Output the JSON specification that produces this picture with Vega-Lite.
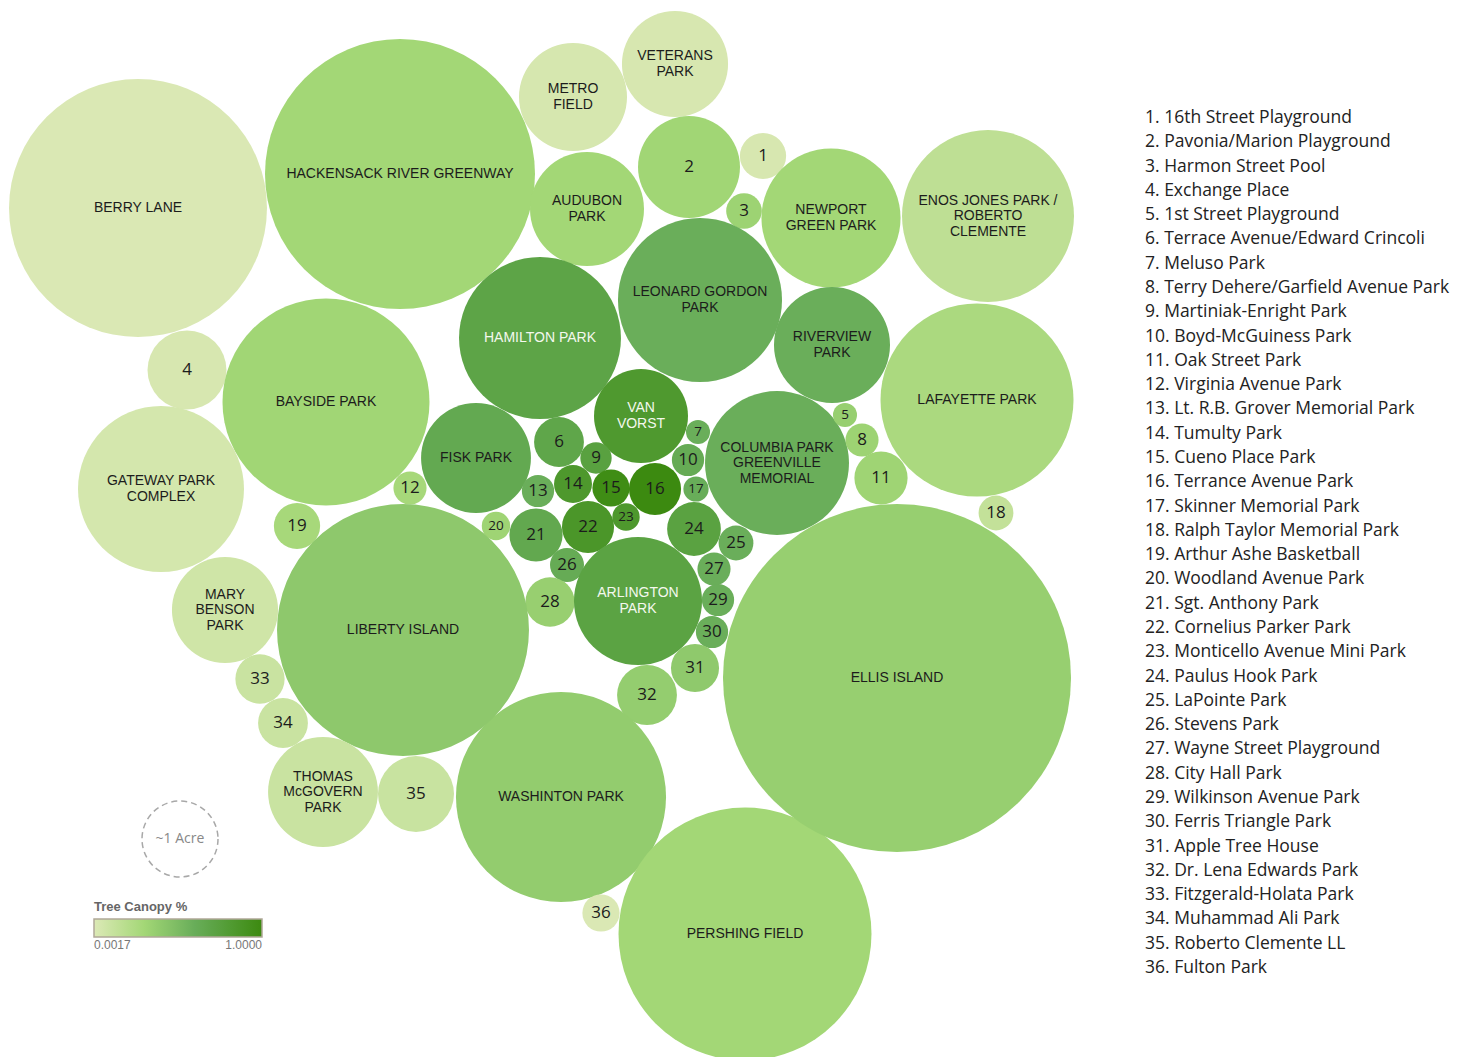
{
  "$schema": "https://vega.github.io/schema/vega-lite/v6.json",
  "width": 1471,
  "height": 1057,
  "padding": 0,
  "autosize": "none",
  "background": "white",
  "config": {"view": {"stroke": null}, "axis": {"disable": true}},
  "datasets": {
    "parks": [
      {"label": "BERRY LANE", "x": 138, "y": 208, "acres": 11.52, "canopy": 0.01},
      {"label": "HACKENSACK RIVER GREENWAY", "x": 400, "y": 174, "acres": 12.62, "canopy": 0.30},
      {"label": "METRO\nFIELD", "x": 573, "y": 97, "acres": 2.02, "canopy": 0.035},
      {"label": "VETERANS\nPARK", "x": 675, "y": 64, "acres": 1.95, "canopy": 0.03},
      {"label": "2", "x": 689, "y": 167, "acres": 1.80, "canopy": 0.31},
      {"label": "1", "x": 763, "y": 156, "acres": 0.37, "canopy": 0.03},
      {"label": "3", "x": 744, "y": 211, "acres": 0.22, "canopy": 0.33},
      {"label": "AUDUBON\nPARK", "x": 587, "y": 209, "acres": 2.25, "canopy": 0.30},
      {"label": "NEWPORT\nGREEN PARK", "x": 831, "y": 218, "acres": 3.35, "canopy": 0.30},
      {"label": "ENOS JONES PARK /\nROBERTO\nCLEMENTE", "x": 988, "y": 216, "acres": 5.12, "canopy": 0.16},
      {"label": "LEONARD GORDON\nPARK", "x": 700, "y": 300, "acres": 4.66, "canopy": 0.59},
      {"label": "HAMILTON PARK", "x": 540, "y": 338, "acres": 4.54, "canopy": 0.70},
      {"label": "RIVERVIEW\nPARK", "x": 832, "y": 345, "acres": 2.33, "canopy": 0.59},
      {"label": "LAFAYETTE PARK", "x": 977, "y": 400, "acres": 6.45, "canopy": 0.26},
      {"label": "4", "x": 187, "y": 370, "acres": 1.08, "canopy": 0.03},
      {"label": "BAYSIDE PARK", "x": 326, "y": 402, "acres": 7.42, "canopy": 0.31},
      {"label": "GATEWAY PARK\nCOMPLEX", "x": 161, "y": 489, "acres": 4.77, "canopy": 0.043},
      {"label": "FISK PARK", "x": 476, "y": 458, "acres": 2.09, "canopy": 0.645},
      {"label": "VAN\nVORST", "x": 641, "y": 416, "acres": 1.53, "canopy": 0.83},
      {"label": "COLUMBIA PARK\nGREENVILLE\nMEMORIAL", "x": 777, "y": 463, "acres": 3.59, "canopy": 0.59},
      {"label": "5", "x": 845, "y": 415, "acres": 0.10, "canopy": 0.36},
      {"label": "8", "x": 862, "y": 440, "acres": 0.19, "canopy": 0.33},
      {"label": "11", "x": 881, "y": 478, "acres": 0.49, "canopy": 0.32},
      {"label": "18", "x": 996, "y": 513, "acres": 0.21, "canopy": 0.135},
      {"label": "6", "x": 559, "y": 442, "acres": 0.43, "canopy": 0.68},
      {"label": "7", "x": 698, "y": 432, "acres": 0.10, "canopy": 0.59},
      {"label": "9", "x": 596, "y": 458, "acres": 0.17, "canopy": 0.735},
      {"label": "10", "x": 688, "y": 460, "acres": 0.18, "canopy": 0.62},
      {"label": "12", "x": 410, "y": 488, "acres": 0.19, "canopy": 0.28},
      {"label": "13", "x": 538, "y": 491, "acres": 0.18, "canopy": 0.59},
      {"label": "14", "x": 573, "y": 484, "acres": 0.25, "canopy": 0.84},
      {"label": "15", "x": 611, "y": 488, "acres": 0.24, "canopy": 0.97},
      {"label": "16", "x": 655, "y": 489, "acres": 0.47, "canopy": 1.0},
      {"label": "17", "x": 696, "y": 489, "acres": 0.11, "canopy": 0.6},
      {"label": "19", "x": 297, "y": 526, "acres": 0.37, "canopy": 0.28},
      {"label": "20", "x": 496, "y": 526, "acres": 0.14, "canopy": 0.32},
      {"label": "21", "x": 536, "y": 535, "acres": 0.49, "canopy": 0.655},
      {"label": "22", "x": 588, "y": 527, "acres": 0.47, "canopy": 0.865},
      {"label": "23", "x": 626, "y": 517, "acres": 0.13, "canopy": 0.84},
      {"label": "24", "x": 694, "y": 529, "acres": 0.50, "canopy": 0.73},
      {"label": "25", "x": 736, "y": 543, "acres": 0.21, "canopy": 0.59},
      {"label": "26", "x": 567, "y": 565, "acres": 0.20, "canopy": 0.62},
      {"label": "27", "x": 714, "y": 569, "acres": 0.19, "canopy": 0.59},
      {"label": "28", "x": 550, "y": 602, "acres": 0.42, "canopy": 0.357},
      {"label": "ARLINGTON\nPARK", "x": 638, "y": 601, "acres": 2.84, "canopy": 0.72},
      {"label": "29", "x": 718, "y": 600, "acres": 0.18, "canopy": 0.59},
      {"label": "30", "x": 712, "y": 632, "acres": 0.18, "canopy": 0.59},
      {"label": "31", "x": 695, "y": 668, "acres": 0.40, "canopy": 0.40},
      {"label": "32", "x": 647, "y": 695, "acres": 0.62, "canopy": 0.375},
      {"label": "WASHINTON PARK", "x": 561, "y": 797, "acres": 7.64, "canopy": 0.38},
      {"label": "36", "x": 601, "y": 913, "acres": 0.24, "canopy": 0.01},
      {"label": "PERSHING FIELD", "x": 745, "y": 934, "acres": 11.08, "canopy": 0.30},
      {"label": "ELLIS ISLAND", "x": 897, "y": 678, "acres": 20.97, "canopy": 0.36},
      {"label": "LIBERTY ISLAND", "x": 403, "y": 630, "acres": 10.99, "canopy": 0.405},
      {"label": "MARY\nBENSON\nPARK", "x": 225, "y": 610, "acres": 1.95, "canopy": 0.07},
      {"label": "33", "x": 260, "y": 679, "acres": 0.42, "canopy": 0.10},
      {"label": "34", "x": 283, "y": 723, "acres": 0.43, "canopy": 0.10},
      {"label": "THOMAS\nMcGOVERN\nPARK", "x": 323, "y": 792, "acres": 2.09, "canopy": 0.10},
      {"label": "35", "x": 416, "y": 794, "acres": 1.00, "canopy": 0.105}
    ],
    "scaleref": [
      {"label": "~1 Acre", "x": 180, "y": 839, "acres": 1}
    ],
    "list": [
      {"n": 1, "entry": "1. 16th Street Playground"},
      {"n": 2, "entry": "2. Pavonia/Marion Playground"},
      {"n": 3, "entry": "3. Harmon Street Pool"},
      {"n": 4, "entry": "4. Exchange Place"},
      {"n": 5, "entry": "5. 1st Street Playground"},
      {"n": 6, "entry": "6. Terrace Avenue/Edward Crincoli"},
      {"n": 7, "entry": "7. Meluso Park"},
      {"n": 8, "entry": "8. Terry Dehere/Garfield Avenue Park"},
      {"n": 9, "entry": "9. Martiniak-Enright Park"},
      {"n": 10, "entry": "10. Boyd-McGuiness Park"},
      {"n": 11, "entry": "11. Oak Street Park"},
      {"n": 12, "entry": "12. Virginia Avenue Park"},
      {"n": 13, "entry": "13. Lt. R.B. Grover Memorial Park"},
      {"n": 14, "entry": "14. Tumulty Park"},
      {"n": 15, "entry": "15. Cueno Place Park"},
      {"n": 16, "entry": "16. Terrance Avenue Park"},
      {"n": 17, "entry": "17. Skinner Memorial Park"},
      {"n": 18, "entry": "18. Ralph Taylor Memorial Park"},
      {"n": 19, "entry": "19. Arthur Ashe Basketball"},
      {"n": 20, "entry": "20. Woodland Avenue Park"},
      {"n": 21, "entry": "21. Sgt. Anthony Park"},
      {"n": 22, "entry": "22. Cornelius Parker Park"},
      {"n": 23, "entry": "23. Monticello Avenue Mini Park"},
      {"n": 24, "entry": "24. Paulus Hook Park"},
      {"n": 25, "entry": "25. LaPointe Park"},
      {"n": 26, "entry": "26. Stevens Park"},
      {"n": 27, "entry": "27. Wayne Street Playground"},
      {"n": 28, "entry": "28. City Hall Park"},
      {"n": 29, "entry": "29. Wilkinson Avenue Park"},
      {"n": 30, "entry": "30. Ferris Triangle Park"},
      {"n": 31, "entry": "31. Apple Tree House"},
      {"n": 32, "entry": "32. Dr. Lena Edwards Park"},
      {"n": 33, "entry": "33. Fitzgerald-Holata Park"},
      {"n": 34, "entry": "34. Muhammad Ali Park"},
      {"n": 35, "entry": "35. Roberto Clemente LL"},
      {"n": 36, "entry": "36. Fulton Park"}
    ]
  },
  "layer": [
    {
      "layer": [
        {
          "data": {"name": "parks"},
          "mark": {"type": "circle", "opacity": 1},
          "encoding": {
            "x": {"field": "x", "type": "quantitative", "scale": {"domain": [0, 1471], "nice": false, "zero": false}, "axis": null},
            "y": {"field": "y", "type": "quantitative", "scale": {"domain": [0, 1057], "nice": false, "zero": false, "reverse": true}, "axis": null},
            "size": {"field": "acres", "type": "quantitative", "scale": {"type": "linear", "domain": [0, 21], "range": [0, 121296], "zero": true}, "legend": null},
            "color": {
              "field": "canopy", "type": "quantitative",
              "scale": {"domain": [0.0017, 0.3, 0.6, 1.0], "range": ["#dce9b6", "#a3d776", "#68ad59", "#3c8a10"], "interpolate": "rgb"},
              "legend": {
                "orient": "none", "legendX": 94, "legendY": 901, "direction": "horizontal",
                "gradientLength": 168, "gradientThickness": 18,
                "title": "Tree Canopy %", "titleFont": "Liberation Sans", "titleFontSize": 13, "titleFontWeight": "bold", "titleColor": "#666666", "titlePadding": 5,
                "values": [0.0017, 1], "format": ".4f",
                "labelFont": "Liberation Sans", "labelFontSize": 12, "labelColor": "#777777", "labelOffset": 3,
                "gradientStrokeColor": "#b0a898", "gradientStrokeWidth": 1.5
              }
            }
          }
        },
        {
          "data": {"name": "scaleref"},
          "mark": {"type": "point", "shape": "circle", "filled": false, "stroke": "#a8a8a8", "strokeWidth": 1.5, "strokeDash": [6, 4], "opacity": 1},
          "encoding": {
            "x": {"field": "x", "type": "quantitative", "axis": null},
            "y": {"field": "y", "type": "quantitative", "axis": null},
            "size": {"field": "acres", "type": "quantitative", "legend": null}
          }
        },
        {
          "data": {"name": "scaleref"},
          "mark": {"type": "text", "font": "Open Sans", "fontSize": 14, "color": "#888888", "baseline": "middle", "align": "center"},
          "encoding": {
            "x": {"field": "x", "type": "quantitative", "axis": null},
            "y": {"field": "y", "type": "quantitative", "axis": null},
            "text": {"field": "label", "type": "nominal"}
          }
        },
        {
          "data": {"name": "parks"},
          "transform": [{"filter": "!test(/^[0-9]+$/, datum.label) && length(split(datum.label, '\\n')) == 1"}],
          "mark": {"type": "text", "font": "Liberation Sans", "fontSize": 14, "baseline": "middle", "align": "center"},
          "encoding": {
            "x": {"field": "x", "type": "quantitative", "axis": null},
            "y": {"field": "y", "type": "quantitative", "axis": null},
            "text": {"field": "label", "type": "nominal"},
            "color": {"condition": {"test": "datum.canopy >= 0.69", "value": "#f4f8ee"}, "value": "#1c1c1c"}
          }
        },
        {
          "data": {"name": "parks"},
          "transform": [{"filter": "!test(/^[0-9]+$/, datum.label) && length(split(datum.label, '\\n')) == 2"}],
          "mark": {"type": "text", "font": "Liberation Sans", "fontSize": 14, "lineBreak": "\n", "lineHeight": 15.5, "baseline": "middle", "align": "center", "dy": -7.75},
          "encoding": {
            "x": {"field": "x", "type": "quantitative", "axis": null},
            "y": {"field": "y", "type": "quantitative", "axis": null},
            "text": {"field": "label", "type": "nominal"},
            "color": {"condition": {"test": "datum.canopy >= 0.69", "value": "#f4f8ee"}, "value": "#1c1c1c"}
          }
        },
        {
          "data": {"name": "parks"},
          "transform": [{"filter": "!test(/^[0-9]+$/, datum.label) && length(split(datum.label, '\\n')) == 3"}],
          "mark": {"type": "text", "font": "Liberation Sans", "fontSize": 14, "lineBreak": "\n", "lineHeight": 15.5, "baseline": "middle", "align": "center", "dy": -15.5},
          "encoding": {
            "x": {"field": "x", "type": "quantitative", "axis": null},
            "y": {"field": "y", "type": "quantitative", "axis": null},
            "text": {"field": "label", "type": "nominal"},
            "color": {"condition": {"test": "datum.canopy >= 0.69", "value": "#f4f8ee"}, "value": "#1c1c1c"}
          }
        },
        {
          "data": {"name": "parks"},
          "transform": [{"filter": "test(/^[0-9]+$/, datum.label)"}],
          "mark": {"type": "text", "font": "Open Sans", "baseline": "middle", "align": "center", "color": "#1c1c1c"},
          "encoding": {
            "x": {"field": "x", "type": "quantitative", "axis": null},
            "y": {"field": "y", "type": "quantitative", "axis": null},
            "text": {"field": "label", "type": "nominal"},
            "size": {"condition": {"test": "datum.acres < 0.16", "value": 13.5}, "value": 17}
          }
        }
      ]
    },
    {
      "data": {"name": "list"},
      "mark": {"type": "text", "font": "Open Sans", "fontSize": 17.5, "align": "left", "baseline": "middle", "color": "#222222"},
      "encoding": {
        "x": {"value": 1145},
        "y": {"field": "n", "type": "ordinal", "scale": {"type": "point", "range": [118, 968], "padding": 0}, "axis": null},
        "text": {"field": "entry", "type": "nominal"}
      }
    }
  ],
  "resolve": {"scale": {"y": "independent"}}
}
